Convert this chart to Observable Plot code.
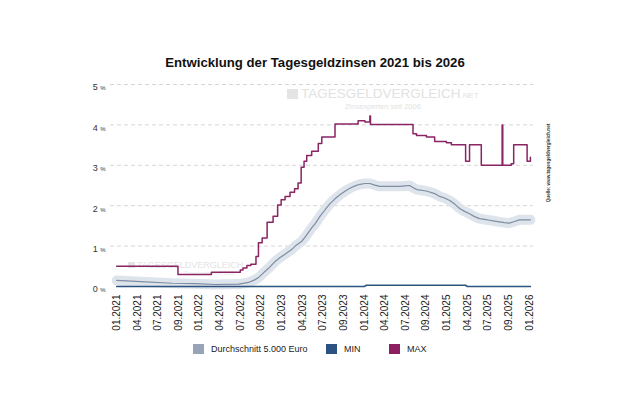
<!DOCTYPE html>
<html><head><meta charset="utf-8">
<script src="https://cdn.jsdelivr.net/npm/d3@7"></script>
<script src="https://cdn.jsdelivr.net/npm/@observablehq/plot@0.6"></script>
<style>
body{margin:0;background:#fff;font-family:"Liberation Sans",Arial,sans-serif;}
#wrap{position:relative;width:630px;height:412px;overflow:hidden;background:#fff;}
#title{position:absolute;top:55px;left:0;width:630px;text-align:center;font-weight:bold;font-size:13.2px;color:#111;}
#chart{position:absolute;top:0;left:0;z-index:2;}
.wm{position:absolute;color:#e2e2e2;white-space:nowrap;z-index:1;line-height:1;}
#legend{position:absolute;top:344px;left:0;width:630px;font-size:9px;color:#222;z-index:3;}
.lg{position:absolute;display:flex;align-items:center;}
.sq{width:11px;height:10px;margin-right:7px;}
#src{position:absolute;left:548px;top:163px;transform:translate(-50%,-50%) rotate(-90deg);font-size:4.6px;color:#333;white-space:nowrap;z-index:3;font-weight:bold;}
</style></head>
<body>
<div id="wrap">
  <div id="title">Entwicklung der Tagesgeldzinsen 2021 bis 2026</div>
  <div class="wm" style="left:287px;top:87px;font-size:13.5px;"><span style="display:inline-block;width:11px;height:10px;background:#e4e4e4;margin-right:3px;vertical-align:-1px"></span>TAGESGELDVERGLEICH<span style="font-size:8px">.NET</span></div>
  <div class="wm" style="left:345px;top:102.5px;font-size:7.5px;">Zinsexperten seit 2006</div>
  <div class="wm" style="left:128px;top:261px;font-size:9px;color:#e3e3e3;"><span style="display:inline-block;width:7px;height:6px;background:#e3e3e3;margin-right:2px"></span>TAGESGELDVERGLEICH</div>
  <div class="wm" style="left:184px;top:271px;font-size:5px;color:#eaeaea;">Zinsexperten seit 2006</div>
  <div id="chart"></div>
  <div id="src">Quelle: www.tagesgeldvergleich.net</div>
  <div id="legend">
    <div class="lg" style="left:193px"><div class="sq" style="background:#97a4b8"></div>Durchschnitt 5.000 Euro</div>
    <div class="lg" style="left:326px"><div class="sq" style="background:#2c5283"></div>MIN</div>
    <div class="lg" style="left:389px"><div class="sq" style="background:#8b1f5f"></div>MAX</div>
  </div>
</div>
<script>
// x positions are tick-index units (equally spaced date labels)
const tickLabels = ["01.2021","04.2021","07.2021","09.2021","01.2022","04.2022","07.2022","09.2022","01.2023","04.2023","07.2023","09.2023","01.2024","04.2024","07.2024","09.2024","01.2025","04.2025","07.2025","09.2025","01.2026"];

const maxX = [0,2.97,4.59,5.99,6.12,6.31,6.5,6.75,6.87,7.05,7.29,7.58,7.8,7.97,8.16,8.4,8.62,8.79,8.94,9.08,9.21,9.45,9.77,9.94,10.58,11.7,12.03,12.27,12.3,14.36,14.53,15.01,15.41,15.98,16.22,16.91,17.1,17.67,18.68,18.71,19.12,19.24,19.89,20.05];
const maxV = [0.5,0.3,0.35,0.41,0.46,0.52,0.55,0.74,1.08,1.2,1.59,1.74,2.02,2.15,2.23,2.33,2.42,2.56,2.95,3.1,3.24,3.35,3.54,3.7,4.02,4.1,4.07,4.22,4.01,3.78,3.74,3.7,3.59,3.56,3.51,3.1,3.51,3.0,4.0,3.0,3.04,3.51,3.1,3.2];

const avgX = [0,1.16,2.69,3.82,4.78,5.91,6.39,6.71,6.87,7.1,7.36,7.68,7.92,8.16,8.49,8.65,8.97,9.13,9.45,9.61,9.86,10.1,10.34,10.58,10.82,11.06,11.3,11.55,11.79,12.03,12.27,12.51,12.75,13.24,13.72,13.96,14.2,14.35,14.54,14.93,15.17,15.41,15.65,15.89,16.14,16.38,16.62,16.86,17.1,17.34,17.58,17.83,18.07,18.31,18.55,18.79,19.03,19.28,19.52,19.76,20.05];
const avgV = [0.15,0.12,0.08,0.07,0.05,0.06,0.1,0.17,0.22,0.33,0.45,0.62,0.72,0.8,0.92,1.0,1.12,1.22,1.45,1.55,1.74,1.9,2.05,2.17,2.27,2.36,2.43,2.49,2.53,2.55,2.55,2.51,2.48,2.48,2.48,2.49,2.5,2.45,2.4,2.37,2.34,2.3,2.23,2.19,2.13,2.04,1.93,1.86,1.8,1.73,1.68,1.66,1.64,1.62,1.6,1.58,1.57,1.61,1.65,1.65,1.65];

const minX = [0,12.0,12.1,16.9,17.0,20.05];
const minV = [0.0,0.0,0.03,0.03,0.0,0.0];

const yTicks = [0,1,2,3,4,5];

const maxData = maxX.map((x,i)=>({x, v:maxV[i]}));
const avgData = avgX.map((x,i)=>({x, v:avgV[i]}));
const minData = minX.map((x,i)=>({x, v:minV[i]}));

const plot = Plot.plot({
  width: 630, height: 340,
  marginTop: 84, marginBottom: 54, marginLeft: 110, marginRight: 97,
  style: {background: "transparent", fontFamily: "Liberation Sans, Arial, sans-serif"},
  x: {domain: [-0.3, 20.2]},
  y: {domain: [0, 5]},
  marks: [
    Plot.ruleY(yTicks.filter(d => d > 0), {stroke: "#d6d6d6", strokeDasharray: "4,3"}),
    Plot.line(avgData, {x: "x", y: "v", stroke: "#dee4eb", strokeWidth: 10, strokeLinecap: "round", strokeLinejoin: "round"}),
    Plot.line(avgData, {x: "x", y: "v", stroke: "#7f8da2", strokeWidth: 1.2}),
    Plot.line(minData, {x: "x", y: "v", stroke: "#2c5480", strokeWidth: 1.6}),
    Plot.line(maxData, {x: "x", y: "v", curve: "step-after", stroke: "#8a2463", strokeWidth: 1.5}),
    Plot.axisX({ticks: d3.range(tickLabels.length), tickFormat: i => tickLabels[i], tickRotate: -90, tickSize: 0, tickPadding: 8, fontSize: 10, label: null, color: "#222"}),
    Plot.axisY({ticks: yTicks, tickFormat: d => String(d), tickSize: 0, tickPadding: 5, dy: 3, fontSize: 9, label: null, color: "#333"})
  ]
});
document.getElementById("chart").appendChild(plot);

d3.select(plot).selectAll('g[aria-label="y-axis tick label"] text').each(function(){
  const t = this.textContent;
  this.textContent = t + " ";
  d3.select(this).append("tspan").attr("font-size", 6).text("%");
});
</script>
</body></html>
